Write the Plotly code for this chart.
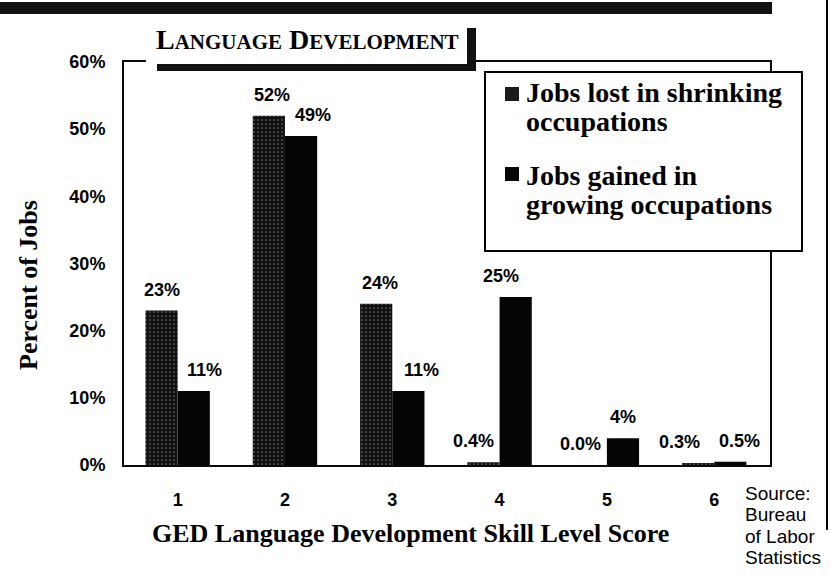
import plotly.graph_objects as go

# ---- data ----
levels = [1, 2, 3, 4, 5, 6]
level_labels = ["1", "2", "3", "4", "5", "6"]
jobs_lost = [23, 52, 24, 0.4, 0.0, 0.3]
jobs_gained = [11, 49, 11, 25, 4, 0.5]
series_lines = [["Jobs lost in shrinking", "occupations"],
                ["Jobs gained in", "growing occupations"]]
y_ticks = [0, 10, 20, 30, 40, 50, 60]
y_tick_labels = ["0%", "10%", "20%", "30%", "40%", "50%", "60%"]
source_lines = ["Source:", "Bureau", "of Labor", "Statistics"]

# label nudges (pixels) so neighbouring value labels do not collide
lost_label_dx = [0, 3, 4, -10, -10, -19]
gained_label_dx = [11, 12, 13, -15, 0, 9]

# ---- layout geometry (pixels) ----
W, H = 831, 580
L, R, T, B = 124, 770, 62, 465


def px(x):
    return (x - L) / (R - L)


def py(y):
    return (B - y) / (B - T)


def fmt(v):
    return f"{v:.1f}%" if v < 1 else f"{v:.0f}%"


SERIF = "Liberation Serif, Times New Roman, serif"
SANS = "Liberation Sans, Arial, sans-serif"
INK = "#0a0a0a"

fig = go.Figure()
fig.add_trace(go.Bar(
    x=levels, y=jobs_lost, name=" ".join(series_lines[0]),
    marker=dict(color="#121212", line=dict(width=0),
                pattern=dict(shape=".", fgcolor="#c8c8c8", bgcolor="#121212",
                             size=4, solidity=0.14, fillmode="overlay")),
))
fig.add_trace(go.Bar(
    x=levels, y=jobs_gained, name=" ".join(series_lines[1]),
    marker=dict(color="#050505", line=dict(width=0)),
))

annotations = []
bw = 0.3
label_font = dict(family=SANS, size=18, color="black", weight="bold")
for xv, v, dx in zip(levels, jobs_lost, lost_label_dx):
    annotations.append(dict(x=xv - bw / 2, y=v, xref="x", yref="y", text=fmt(v),
                            showarrow=False, yanchor="middle", yshift=21, xshift=dx,
                            font=label_font))
for xv, v, dx in zip(levels, jobs_gained, gained_label_dx):
    annotations.append(dict(x=xv + bw / 2, y=v, xref="x", yref="y", text=fmt(v),
                            showarrow=False, yanchor="middle", yshift=21, xshift=dx,
                            font=label_font))

# title in small caps
annotations.append(dict(
    x=px(307), y=py(39), xref="paper", yref="paper", showarrow=False,
    xanchor="center", yanchor="middle",
    text="L<span style='font-size:21px'>ANGUAGE</span> D<span style='font-size:21px'>EVELOPMENT</span>",
    font=dict(family=SERIF, size=28, color="black", weight="bold")))
# axis titles
annotations.append(dict(
    x=px(410), y=py(533), xref="paper", yref="paper", showarrow=False,
    xanchor="center", yanchor="middle",
    text="GED Language Development Skill Level Score",
    font=dict(family=SERIF, size=26, color="black", weight="bold")))
annotations.append(dict(
    x=px(28), y=py(285), xref="paper", yref="paper", showarrow=False,
    xanchor="center", yanchor="middle", textangle=-90,
    text="Percent of Jobs",
    font=dict(family=SERIF, size=26, color="black", weight="bold")))
# source, one line at a time
for i, line in enumerate(source_lines):
    annotations.append(dict(
        x=px(743), y=py(493 + 21.5 * i), xref="paper", yref="paper", showarrow=False,
        xanchor="left", yanchor="middle", align="left", text=line,
        font=dict(family=SANS, size=19, color="black")))

# manual legend (box, swatches, text lines)
leg_font = dict(family=SERIF, size=28, color="black", weight="bold")
leg_text_y = [[93, 122], [175, 204]]
leg_swatch_y = [87, 167]
swatch_colors = ["#1c1c1c", "#050505"]
for lines, ys in zip(series_lines, leg_text_y):
    for line, yy in zip(lines, ys):
        annotations.append(dict(
            x=px(524), y=py(yy), xref="paper", yref="paper", showarrow=False,
            xanchor="left", yanchor="middle", text=line, font=leg_font))

shapes = [
    # scan bar at top
    dict(type="rect", xref="paper", yref="paper", x0=px(0), x1=px(772), y0=py(2), y1=py(14),
         fillcolor="#111111", line=dict(width=0), layer="above"),
    # right edge line
    dict(type="line", xref="paper", yref="paper", x0=px(827), x1=px(827), y0=py(0), y1=py(530),
         line=dict(color="black", width=2), layer="above"),
    # title box white area (covers frame line)
    dict(type="rect", xref="paper", yref="paper", x0=px(146), x1=px(468), y0=py(24), y1=py(64),
         fillcolor="white", line=dict(width=0), layer="above"),
    # title shadow bottom
    dict(type="rect", xref="paper", yref="paper", x0=px(157), x1=px(476), y0=py(64), y1=py(71),
         fillcolor="#111111", line=dict(width=0), layer="above"),
    # title shadow right
    dict(type="rect", xref="paper", yref="paper", x0=px(467), x1=px(476), y0=py(28), y1=py(71),
         fillcolor="#111111", line=dict(width=0), layer="above"),
    # legend box
    dict(type="rect", xref="paper", yref="paper", x0=px(485), x1=px(802), y0=py(72), y1=py(251),
         fillcolor="white", line=dict(color="black", width=2), layer="above"),
]
for sy, col in zip(leg_swatch_y, swatch_colors):
    shapes.append(dict(type="rect", xref="paper", yref="paper",
                       x0=px(505), x1=px(519), y0=py(sy), y1=py(sy + 14),
                       fillcolor=col, line=dict(width=0), layer="above"))

fig.update_layout(
    width=W, height=H,
    margin=dict(l=L, r=W - R, t=T, b=H - B, pad=0),
    paper_bgcolor="white", plot_bgcolor="white",
    barmode="group", bargap=0.4, bargroupgap=0,
    showlegend=False,
    xaxis=dict(range=[0.5, 6.52], tickvals=levels, ticktext=level_labels,
               showgrid=False, zeroline=False, showline=True, mirror=True,
               linecolor=INK, linewidth=2, ticks="", ticklabelstandoff=17,
               tickfont=dict(family=SANS, size=18, color="black", weight="bold")),
    yaxis=dict(range=[0, 60], tickvals=y_ticks, ticktext=y_tick_labels,
               showgrid=False, zeroline=False, showline=True, mirror=True,
               linecolor=INK, linewidth=2, ticks="", ticklabelstandoff=13,
               tickfont=dict(family=SANS, size=18, color="black", weight="bold")),
    annotations=annotations, shapes=shapes,
)

fig.write_html("out.html", config={"displayModeBar": False},
               post_script="document.body.style.margin='0';")
